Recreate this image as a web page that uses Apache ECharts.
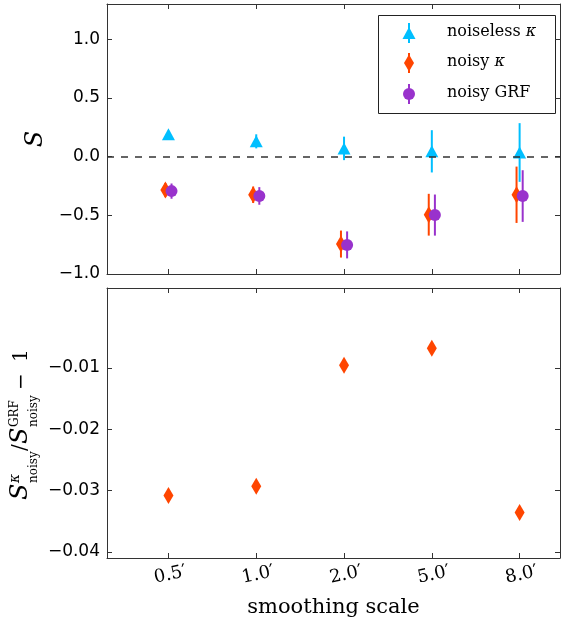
<!DOCTYPE html>
<html>
<head>
<meta charset="utf-8">
<script src="https://cdn.jsdelivr.net/npm/echarts@6/dist/echarts.min.js"></script>
<style>
  html, body { margin: 0; padding: 0; background: #fff; }
  #chart { width: 561px; height: 624px; }
</style>
</head>
<body>
<div id="chart"></div>
<script>
// Smoothing scales (category positions 0..4 on the x axis)
const scales = ['0.5′', '1.0′', '2.0′', '5.0′', '8.0′'];

// Skewness S per smoothing scale, with 1-sigma errors
const noiselessS   = [0.190, 0.130, 0.070, 0.045, 0.035];
const noiselessErr = [0.030, 0.060, 0.100, 0.180, 0.250];
const noisyKappaS   = [-0.285, -0.325, -0.745, -0.495, -0.325];
const noisyKappaErr = [0.060, 0.070, 0.115, 0.178, 0.240];
const noisyGrfS   = [-0.294, -0.335, -0.752, -0.498, -0.336];
const noisyGrfErr = [0.065, 0.075, 0.115, 0.175, 0.220];

// Relative difference S_noisy^kappa / S_noisy^GRF - 1
const ratio = [-0.0308, -0.0293, -0.0096, -0.0068, -0.0336];

// Tick values
const topTicks = [-1.0, -0.5, 0.0, 0.5, 1.0];
const bottomTicks = [-0.04, -0.03, -0.02, -0.01];
const xTicks = [0, 1, 2, 3, 4];

const C_NOISELESS = '#00BFFF';
const C_KAPPA = '#FF4500';
const C_GRF = '#9932CC';
const AXIS_C = '#333';
const SERIF = '"DejaVu Serif", "Liberation Serif", serif';
const SANS = '"DejaVu Sans", sans-serif';

const KAPPA_SHIFT = -0.035;
const GRF_SHIFT = 0.035;

const minus = v => String(v).replace('-', '\u2212');

function pts(vals, shift) {
  return vals.map((v, i) => [i + shift, v]);
}
function bars(vals, errs, shift) {
  return vals.map((v, i) => [i + shift, v - errs[i], v + errs[i]]);
}
function errorBars(data, color, z) {
  return {
    type: 'custom',
    xAxisIndex: 0, yAxisIndex: 0,
    z: z,
    silent: true,
    encode: { x: 0, y: [1, 2] },
    data: data,
    renderItem: function (params, api) {
      const a = api.coord([api.value(0), api.value(1)]);
      const b = api.coord([api.value(0), api.value(2)]);
      return {
        type: 'line',
        shape: { x1: a[0], y1: a[1], x2: b[0], y2: b[1] },
        style: { stroke: color, lineWidth: 2 }
      };
    }
  };
}

function xAxisDef(grid, pos, labels) {
  return {
    type: 'value', gridIndex: grid, position: pos,
    min: -0.7, max: 4.46,
    axisLine: { show: true, onZero: false, lineStyle: { color: AXIS_C, width: 1 } },
    axisTick: { show: true, inside: true, length: 5, customValues: xTicks, lineStyle: { color: AXIS_C } },
    axisLabel: labels ? {
      show: true, customValues: xTicks,
      formatter: v => scales[Math.round(v)],
      rotate: 12, align: 'center', verticalAlign: 'top', margin: 8,
      fontFamily: SERIF, fontSize: 18, color: '#000'
    } : { show: false },
    splitLine: { show: false },
    name: labels ? 'smoothing scale' : '',
    nameLocation: 'middle', nameGap: 39,
    nameTextStyle: { fontFamily: SERIF, fontSize: 21, color: '#000' }
  };
}
function yAxisDef(grid, pos, min, max, ticks, labels, fmt) {
  return {
    type: 'value', gridIndex: grid, position: pos,
    min: min, max: max,
    axisLine: { show: true, onZero: false, lineStyle: { color: AXIS_C, width: 1 } },
    axisTick: { show: true, inside: true, length: 5, customValues: ticks, lineStyle: { color: AXIS_C } },
    axisLabel: labels ? {
      show: true, customValues: ticks, formatter: fmt, margin: 7,
      fontFamily: SANS, fontSize: 17, color: '#000'
    } : { show: false },
    splitLine: { show: false }
  };
}

const legendRows = [
  { y: 32, name: 'noiseless ', color: C_NOISELESS, symbol: 'triangle' },
  { y: 62, name: 'noisy ', color: C_KAPPA, symbol: 'diamond' },
  { y: 93, name: 'noisy GRF', color: C_GRF, symbol: 'circle' }
];

function legendMarker(row) {
  const cx = 409, cy = row.y + 1;
  let shape;
  if (row.symbol === 'triangle') {
    shape = { type: 'polygon', shape: { points: [[cx, cy - 6], [cx - 6.5, cy + 6], [cx + 6.5, cy + 6]] } };
  } else if (row.symbol === 'diamond') {
    shape = { type: 'polygon', shape: { points: [[cx, cy - 8.5], [cx + 5, cy], [cx, cy + 8.5], [cx - 5, cy]] } };
  } else {
    shape = { type: 'circle', shape: { cx: cx, cy: cy, r: 6 } };
  }
  shape.style = { fill: row.color };
  return [
    { type: 'line', shape: { x1: cx, y1: cy - 10, x2: cx, y2: cy + 10 }, style: { stroke: row.color, lineWidth: 2 } },
    shape
  ];
}

const legendChildren = [
  { type: 'rect', shape: { x: 378.5, y: 15.5, width: 177, height: 98 }, style: { fill: '#fff', stroke: '#222', lineWidth: 1 } }
];
legendRows.forEach(row => {
  legendMarker(row).forEach(el => legendChildren.push(el));
  const isKappa = row.name !== 'noisy GRF';
  legendChildren.push({
    type: 'text', x: 447, y: row.y,
    style: {
      text: isKappa ? row.name + '{k|κ}' : row.name,
      fontFamily: SERIF, fontSize: 16, fill: '#000', verticalAlign: 'middle',
      rich: { k: { fontFamily: SERIF, fontStyle: 'italic', fontSize: 16 } }
    }
  });
});

// Rotated y-axis title of the lower panel: S^kappa_noisy / S^GRF_noisy - 1
function t(u, v, text, size, italic) {
  return {
    type: 'text', x: u, y: v,
    style: {
      text: text, fontFamily: SERIF, fontSize: size,
      fontStyle: italic ? 'italic' : 'normal',
      fill: '#000', verticalAlign: 'middle', align: 'left'
    }
  };
}
const ratioTitle = {
  type: 'group', x: 0, y: 500, rotation: Math.PI / 2,
  children: [
    t(0, 21, 'S', 24, true),
    t(17, 15, 'κ', 14, true),
    t(17, 34, 'noisy', 12, false),
    t(49, 21, '/', 20, false),
    t(56, 21, 'S', 24, true),
    t(73, 15, 'GRF', 12, false),
    t(73, 34, 'noisy', 12, false),
    t(110, 22, '−', 20, false),
    t(138, 22, '1', 20, false)
  ]
};

const option = {
  animation: false,
  backgroundColor: '#fff',
  grid: [
    { left: 107, top: 4, right: 1, height: 270 },
    { left: 107, top: 288, right: 1, height: 270 }
  ],
  xAxis: [
    xAxisDef(0, 'bottom', false),
    xAxisDef(0, 'top', false),
    xAxisDef(1, 'bottom', true),
    xAxisDef(1, 'top', false)
  ],
  yAxis: [
    Object.assign(yAxisDef(0, 'left', -1.0, 1.3, topTicks, true, v => minus(v.toFixed(1))), {
      name: 'S', nameLocation: 'middle', nameRotate: 90, nameGap: 57,
      nameTextStyle: { fontFamily: SERIF, fontStyle: 'italic', fontSize: 24, color: '#000' }
    }),
    yAxisDef(0, 'right', -1.0, 1.3, topTicks, false),
    yAxisDef(1, 'left', -0.041, 0.003, bottomTicks, true, v => minus(v.toFixed(2))),
    yAxisDef(1, 'right', -0.041, 0.003, bottomTicks, false)
  ],
  series: [
    {
      type: 'line', xAxisIndex: 0, yAxisIndex: 0, z: 1, silent: true,
      data: [], symbol: 'none',
      markLine: {
        silent: true, symbol: 'none', label: { show: false },
        lineStyle: { color: '#333', width: 1.5, type: [7, 7] },
        data: [{ yAxis: 0 }]
      }
    },
    errorBars(bars(noiselessS, noiselessErr, 0), C_NOISELESS, 2),
    {
      name: 'noiseless κ', type: 'scatter', xAxisIndex: 0, yAxisIndex: 0, z: 3,
      symbol: 'triangle', symbolSize: [13, 12],
      itemStyle: { color: C_NOISELESS, opacity: 1 },
      data: pts(noiselessS, 0)
    },
    errorBars(bars(noisyKappaS, noisyKappaErr, KAPPA_SHIFT), C_KAPPA, 4),
    {
      name: 'noisy κ', type: 'scatter', xAxisIndex: 0, yAxisIndex: 0, z: 5,
      symbol: 'diamond', symbolSize: [10, 17],
      itemStyle: { color: C_KAPPA, opacity: 1 },
      data: pts(noisyKappaS, KAPPA_SHIFT)
    },
    errorBars(bars(noisyGrfS, noisyGrfErr, GRF_SHIFT), C_GRF, 6),
    {
      name: 'noisy GRF', type: 'scatter', xAxisIndex: 0, yAxisIndex: 0, z: 7,
      symbol: 'circle', symbolSize: 12,
      itemStyle: { color: C_GRF, opacity: 1 },
      data: pts(noisyGrfS, GRF_SHIFT)
    },
    {
      name: 'ratio', type: 'scatter', xAxisIndex: 2, yAxisIndex: 2, z: 5,
      symbol: 'diamond', symbolSize: [10, 17],
      itemStyle: { color: C_KAPPA, opacity: 1 },
      data: pts(ratio, 0)
    }
  ],
  graphic: [
    { type: 'group', z: 100, children: legendChildren },
    ratioTitle
  ]
};

const chart = echarts.init(document.getElementById('chart'), null, { renderer: 'canvas' });
chart.setOption(option);
</script>
</body>
</html>
